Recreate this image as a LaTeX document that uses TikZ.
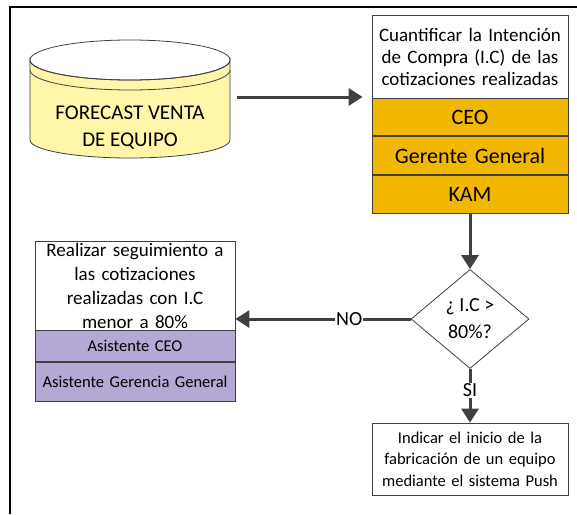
\documentclass[tikz,border=0pt]{standalone}
\usepackage{fontspec}
\setmainfont{Carlito}
\usetikzlibrary{arrows.meta, positioning, shapes.geometric}
\definecolor{cgold}{RGB}{242, 183, 0}
\definecolor{clav}{RGB}{180, 168, 212}
\definecolor{ccream}{RGB}{255, 246, 170}
\definecolor{clink}{RGB}{64, 64, 64}
\tikzset{
  hbox/.style={draw=clink, line width=0.8pt, fill=white, align=center, inner sep=0pt},
  rowbox/.style={hbox, minimum height=#1},
  arr/.style={-{Triangle[length=14pt, width=17pt]}, line width=3pt, draw=clink},
  lab/.style={fill=white, inner sep=1pt, font=\fontsize{20}{22}\selectfont},
}

\begin{document}
\begin{tikzpicture}[x=1pt, y=-1pt]
\useasboundingbox (0,0) rectangle (577,514);

% ---------- marco ----------
\draw[black, line width=2.5pt] (10,514) -- (10,7) -- (577,7);

% ---------- cilindro: forecast ----------
\filldraw[fill=ccream, draw=clink, line width=0.8pt]
  (30,60) -- (30,140) arc[start angle=180, end angle=0, x radius=100, y radius=18]
  -- (230,60) arc[start angle=0, end angle=180, x radius=100, y radius=20] -- cycle;
\draw[clink, line width=0.8pt] (130,60) ellipse[x radius=100, y radius=20];
\draw[clink, line width=0.8pt] (30,70) arc[start angle=180, end angle=0, x radius=100, y radius=20];
\node[inner sep=0pt, minimum width=200pt, minimum height=86pt] (fc) at (130,97) {};
\node[align=center, inner sep=0pt, font=\fontsize{21}{27}\selectfont] (fctxt) at (130,128)
  {FORECAST VENTA\\ DE EQUIPO};

% ---------- cuantificar + responsables ----------
\node[hbox, text width=196pt, minimum height=83pt, font=\fontsize{19}{22}\selectfont] (cuant) at (470,56.5)
  {Cuantificar la Intención\\ de Compra (I.C) de las\\ cotizaciones realizadas};
\node[rowbox=37pt, fill=cgold, text width=196pt, font=\fontsize{22}{24}\selectfont, below=0pt of cuant] (ceo) {CEO};
\node[rowbox=38pt, fill=cgold, text width=196pt, font=\fontsize{22}{24}\selectfont, below=0pt of ceo] (ger) {Gerente General};
\node[rowbox=38pt, fill=cgold, text width=196pt, font=\fontsize{22}{24}\selectfont, below=0pt of ger] (kam) {KAM};

% ---------- decision ----------
\node[diamond, draw=clink, line width=0.8pt, fill=white, inner sep=0pt, minimum width=118pt,
  minimum height=99pt, align=center, font=\fontsize{20}{27}\selectfont] (dec) at (470,319)
  {¿ I.C >\\ 80\%?};

% ---------- seguimiento + asistentes ----------
\node[hbox, text width=200pt, minimum height=89pt, font=\fontsize{19}{24}\selectfont] (seg) at (135,285.5)
  {Realizar seguimiento a\\ las cotizaciones\\ realizadas con I.C\\ menor a 80\%};
\node[rowbox=31pt, fill=clav, text width=200pt, font=\fontsize{16.5}{18}\selectfont, below=0pt of seg] (asceo) {Asistente CEO};
\node[rowbox=39pt, fill=clav, text width=200pt, font=\fontsize{16.5}{18}\selectfont, below=0pt of asceo] (asger) {Asistente Gerencia General};

% ---------- fabricacion ----------
\node[hbox, text width=196pt, minimum height=72pt, font=\fontsize{16.5}{21.5}\selectfont] (fab) at (470,459)
  {Indicar el inicio de la\\ fabricación de un equipo\\ mediante el sistema Push};

% ---------- flechas ----------
\draw[arr, shorten <=7pt, shorten >=9pt] (fc.east) -- (fc.east -| cuant.west);
\draw[arr] (kam) -- (dec);
\draw[arr] (dec.west) -- node[lab, pos=0.35] {NO} (dec.west -| seg.east);
\draw[arr] (dec) -- node[lab, pos=0.4] {SI} (fab);

\end{tikzpicture}
\end{document}
